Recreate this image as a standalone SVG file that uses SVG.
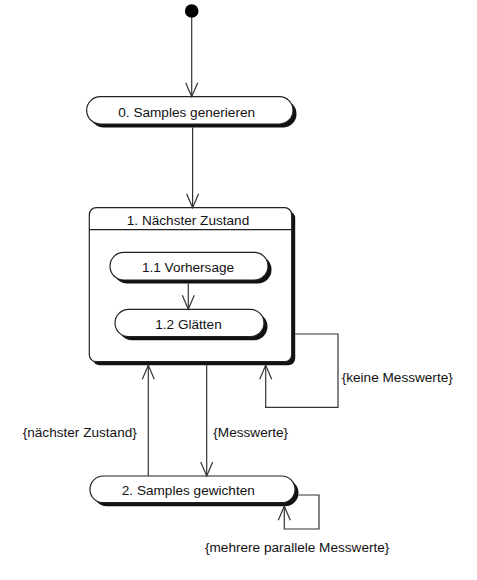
<svg xmlns="http://www.w3.org/2000/svg" width="477" height="580" viewBox="0 0 477 580">
<style>
text{font-family:"Liberation Sans",Arial,sans-serif;font-size:13.6px;fill:#111}
.c{text-anchor:middle}
.shape{fill:#fff;stroke:#222;stroke-width:1.2}
.shadow{fill:#111}
.edge{fill:none;stroke:#333;stroke-width:1.2}
</style>
<defs>
<marker id="arr" markerUnits="userSpaceOnUse" markerWidth="20" markerHeight="20" refX="15" refY="7" orient="auto">
<path d="M1,1 L15,7 L1,13" fill="none" stroke="#333" stroke-width="1.2"/>
</marker>
</defs>
<rect width="477" height="580" fill="#fff"/>
<g id="start">
<circle cx="191.7" cy="11" r="6.8" fill="#000"/>
</g>
<g id="node0">
<rect class="shadow" x="90.2" y="100.2" width="206.3" height="27.3" rx="13.6"/>
<rect class="shape" x="86.7" y="96.7" width="206.3" height="27.3" rx="13.6"/>
<text class="c" x="186.7" y="116.7">0. Samples generieren</text>
</g>
<g id="node1">
<rect class="shadow" x="92.8" y="211.2" width="202.4" height="154" rx="7"/>
<rect class="shape" x="89.3" y="207.7" width="202.4" height="154" rx="7"/>
<line x1="89.3" y1="229.7" x2="291.7" y2="229.7" stroke="#222" stroke-width="1.2"/>
<text class="c" x="188" y="225">1. Nächster Zustand</text>
</g>
<g id="node1_1">
<rect class="shadow" x="113.5" y="255.8" width="158" height="27.7" rx="13.8"/>
<rect class="shape" x="110" y="252.3" width="158" height="27.7" rx="13.8"/>
<text class="c" x="188" y="272">1.1 Vorhersage</text>
</g>
<g id="node1_2">
<rect class="shadow" x="118.5" y="312.8" width="149" height="27.4" rx="13.7"/>
<rect class="shape" x="115" y="309.3" width="149" height="27.4" rx="13.7"/>
<text class="c" x="188.5" y="329">1.2 Glätten</text>
</g>
<g id="node2">
<rect class="shadow" x="93.5" y="479.5" width="205" height="26.7" rx="13.3"/>
<rect class="shape" x="90" y="476" width="205" height="26.7" rx="13.3"/>
<text class="c" x="188.3" y="495">2. Samples gewichten</text>
</g>
<g id="connectors">
<path class="edge" d="M191.7,17 L191.7,96.7" marker-end="url(#arr)"/>
<path class="edge" d="M192.6,127.5 L192.6,207.7" marker-end="url(#arr)"/>
<path class="edge" d="M188.3,283.5 L188.3,309.3" marker-end="url(#arr)"/>
<path class="edge" d="M295.2,334 L338,334 L338,407.3 L265.7,407.3 L265.7,365.2" marker-end="url(#arr)"/>
<path class="edge" d="M148.3,476 L148.3,365.2" marker-end="url(#arr)"/>
<path class="edge" d="M206.7,365.2 L206.7,476" marker-end="url(#arr)"/>
<path class="edge" d="M298.5,495 L319,495 L319,529 L284.3,529 L284.3,506.2" marker-end="url(#arr)"/>
<text x="341.7" y="381.7">{keine Messwerte}</text>
<text x="22.7" y="437.3">{nächster Zustand}</text>
<text x="213.3" y="437">{Messwerte}</text>
<text x="205" y="551.7">{mehrere parallele Messwerte}</text>
</g>
</svg>
